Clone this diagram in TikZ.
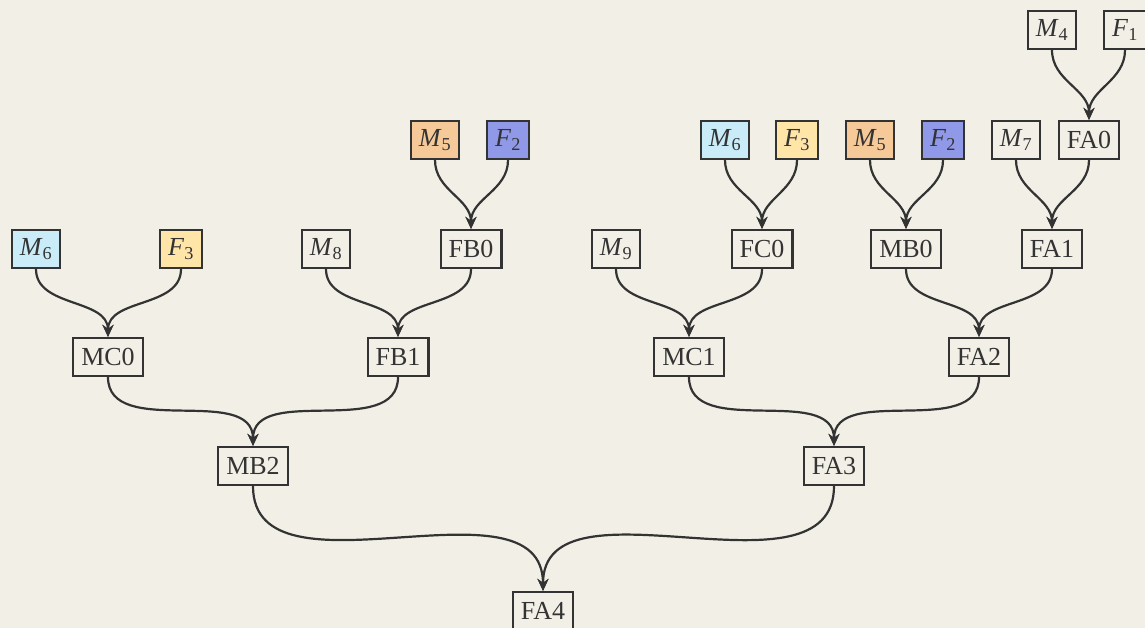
\documentclass[tikz,border=0pt]{standalone}
\usepackage{fontspec}
\setmainfont{Liberation Serif}
\usetikzlibrary{arrows.meta}
\definecolor{bg}{HTML}{F2F0E6}
\definecolor{ink}{HTML}{333333}
\definecolor{cblue}{HTML}{C9ECF8}
\definecolor{cyellow}{HTML}{FFE5A8}
\definecolor{corange}{HTML}{F5C998}
\definecolor{cviolet}{HTML}{9099E8}
\newcommand\gv[2]{\textit{#1}\textsubscript{#2}}
\begin{document}
\begin{tikzpicture}[x=1pt,y=-1pt,
  box/.style={draw=ink,line width=2.2pt,fill=bg,text=ink,minimum height=38pt,inner xsep=8pt,inner ysep=0pt,font=\fontsize{26}{30}\selectfont},
  conn/.style={draw=ink,line width=2.2pt,-{Stealth[length=12pt,width=11pt]}},
]
\fill[bg] (0,0) rectangle (1145,628);
\useasboundingbox (0,0) rectangle (1145,628);
% row 0
\node[box] (m4) at (1052,30) {\gv{M}{4}};
\node[box] (f1) at (1125,30) {\gv{F}{1}};
% row 1
\node[box,fill=corange] (m5a) at (435,140) {\gv{M}{5}};
\node[box,fill=cviolet] (f2a) at (508,140) {\gv{F}{2}};
\node[box,fill=cblue] (m6b) at (725,140) {\gv{M}{6}};
\node[box,fill=cyellow] (f3b) at (797,140) {\gv{F}{3}};
\node[box,fill=corange] (m5b) at (870,140) {\gv{M}{5}};
\node[box,fill=cviolet] (f2b) at (943,140) {\gv{F}{2}};
\node[box] (m7) at (1016,140) {\gv{M}{7}};
\node[box] (fa0) at (1089,140) {FA0};
% row 2
\node[box,fill=cblue] (m6a) at (36,249) {\gv{M}{6}};
\node[box,fill=cyellow] (f3a) at (181,249) {\gv{F}{3}};
\node[box] (m8) at (326,249) {\gv{M}{8}};
\node[box] (fb0) at (471,249) {FB0};
\node[box] (m9) at (616,249) {\gv{M}{9}};
\node[box] (fc0) at (762,249) {FC0};
\node[box] (mb0) at (906,249) {MB0};
\node[box] (fa1) at (1052,249) {FA1};
% row 3
\node[box] (mc0) at (108,357) {MC0};
\node[box] (fb1) at (398,357) {FB1};
\node[box] (mc1) at (689,357) {MC1};
\node[box] (fa2) at (979,357) {FA2};
% row 4
\node[box] (mb2) at (253,466) {MB2};
\node[box] (fa3) at (834,466) {FA3};
% row 5
\node[box] (fa4) at (543,611) {FA4};
% connectors
\foreach \a/\b in {m4/fa0,f1/fa0,m5a/fb0,f2a/fb0,m6b/fc0,f3b/fc0,m5b/mb0,f2b/mb0,m7/fa1,fa0/fa1,
  m6a/mc0,f3a/mc0,m8/fb1,fb0/fb1,m9/mc1,fc0/mc1,mb0/fa2,fa1/fa2,
  mc0/mb2,fb1/mb2,mc1/fa3,fa2/fa3,mb2/fa4,fa3/fa4}
  \draw[conn] (\a.south) to[out=-90,in=90] (\b.north);
\end{tikzpicture}
\end{document}
